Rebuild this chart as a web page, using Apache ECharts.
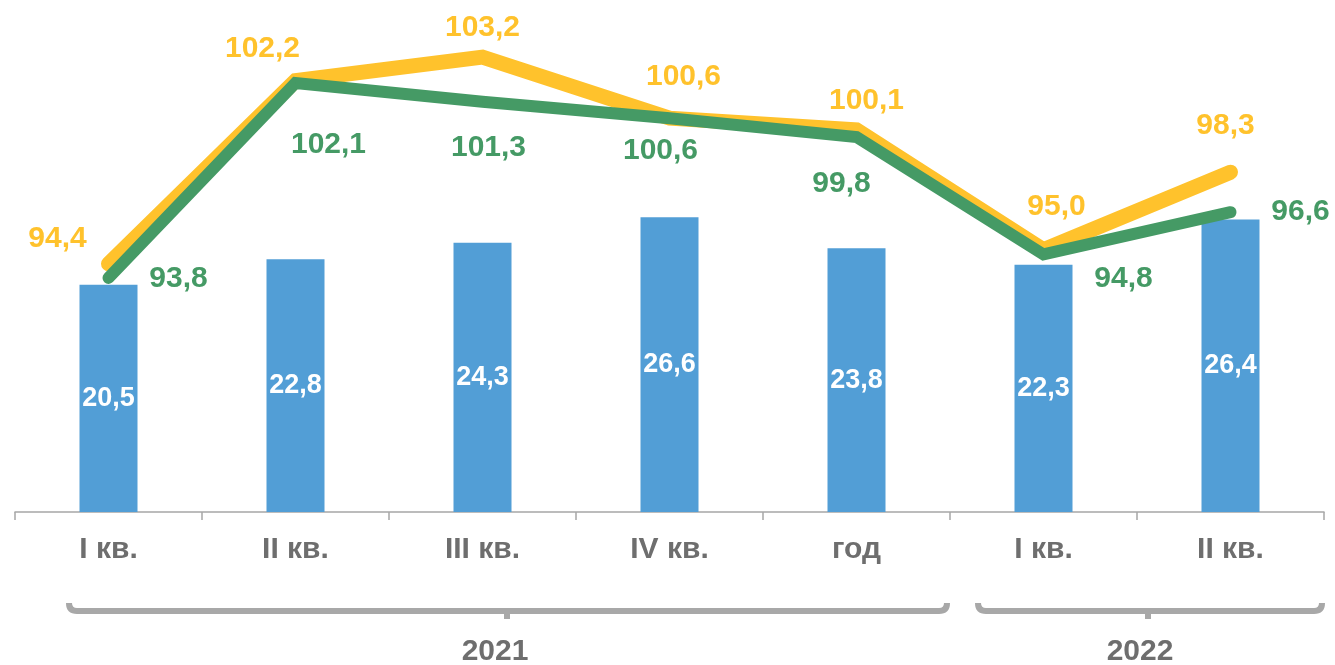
<!DOCTYPE html>
<html>
<head>
<meta charset="utf-8">
<script src="https://cdn.jsdelivr.net/npm/echarts@6/dist/echarts.min.js"></script>
<style>
html,body{margin:0;padding:0;background:#fff;}
#chart{width:1335px;height:665px;}
</style>
</head>
<body>
<div id="chart"></div>
<script>
var categories = ['I кв.', 'II кв.', 'III кв.', 'IV кв.', 'год', 'I кв.', 'II кв.'];
var barValues = [20.5, 22.8, 24.3, 26.6, 23.8, 22.3, 26.4];
var yellowValues = [94.4, 102.2, 103.2, 100.6, 100.1, 95.0, 98.3];
var greenValues = [93.8, 102.1, 101.3, 100.6, 99.8, 94.8, 96.6];
var yearLabels = ['2021', '2022'];

var FONT = '"Liberation Sans", Arial, sans-serif';
var YELLOW = '#FFC22C';
var GREEN = '#459A65';
var BLUE = '#529ED6';
var GRAY_TEXT = '#6E6E6E';
var BRACE = '#A8A8A8';

var yellowOffsets = [[-51,-25],[-33,-32],[0,-29],[14,-41],[10,-29],[13,-43],[-5,-46]];
var greenOffsets = [[70,1],[33,62],[6,46],[-9,33],[-15,47],[80,24],[70,0]];

function fmt(v){ return v.toFixed(1).replace('.', ','); }

function lineData(vals, offs){
  return vals.map(function(v,i){
    return {value:v, label:{offset:offs[i]}};
  });
}

function brace(x1, xc, x2, yTop, yBase, yTip, r){
  var st = {stroke:BRACE, lineWidth:6, fill:null};
  return [
    {type:'bezierCurve', shape:{x1:x1, y1:yTop, x2:x1+r, y2:yBase, cpx1:x1, cpy1:yBase}, style:st},
    {type:'line', shape:{x1:x1+r, y1:yBase, x2:x2-r, y2:yBase}, style:st},
    {type:'bezierCurve', shape:{x1:x2-r, y1:yBase, x2:x2, y2:yTop, cpx1:x2, cpy1:yBase}, style:st},
    {type:'line', shape:{x1:xc, y1:yBase, x2:xc, y2:yTip}, style:st}
  ];
}

var chart = echarts.init(document.getElementById('chart'), null, {renderer:'canvas'});

var graphics = [].concat(
  brace(69,507,947,603,611,619,8),
  brace(978,1148,1322,603,611,619,8),
  [
    {type:'text', x:495, y:652, style:{text:yearLabels[0], fill:GRAY_TEXT, font:'bold 30px '+FONT, textAlign:'center', textVerticalAlign:'middle'}},
    {type:'text', x:1140, y:652, style:{text:yearLabels[1], fill:GRAY_TEXT, font:'bold 30px '+FONT, textAlign:'center', textVerticalAlign:'middle'}}
  ]
);

var option = {
  animation:false,
  backgroundColor:'#fff',
  grid:{left:15, right:11, top:0, bottom:153, containLabel:false},
  xAxis:{
    type:'category',
    data:categories,
    boundaryGap:true,
    axisLine:{show:true, lineStyle:{color:'#A6A6A6', width:1.5}},
    axisTick:{show:true, length:8, interval:0, lineStyle:{color:'#A6A6A6', width:1.5}},
    axisLabel:{interval:0, margin:23, color:GRAY_TEXT, fontSize:30, fontWeight:'bold', fontFamily:FONT}
  },
  yAxis:[
    {type:'value', min:0, max:46.2, show:false, splitLine:{show:false}},
    {type:'value', min:83.84, max:105.63, show:false, splitLine:{show:false}}
  ],
  series:[
    {
      type:'bar', yAxisIndex:0, data:barValues, barWidth:58,
      itemStyle:{color:BLUE},
      label:{show:true, position:'inside', color:'#fff', fontSize:27, fontWeight:'bold', fontFamily:FONT,
        formatter:function(p){return fmt(p.value);}}
    },
    {
      type:'line', yAxisIndex:1, data:lineData(yellowValues, yellowOffsets),
      symbol:'circle', symbolSize:1, showSymbol:true,
      itemStyle:{color:YELLOW},
      lineStyle:{color:YELLOW, width:15, cap:'round', join:'miter'},
      label:{show:true, position:'inside', align:'center', verticalAlign:'middle', color:YELLOW, fontSize:30, fontWeight:'bold', fontFamily:FONT,
        formatter:function(p){return fmt(p.value);}},
      z:3
    },
    {
      type:'line', yAxisIndex:1, data:lineData(greenValues, greenOffsets),
      symbol:'circle', symbolSize:1, showSymbol:true,
      itemStyle:{color:GREEN},
      lineStyle:{color:GREEN, width:12, cap:'round', join:'miter'},
      label:{show:true, position:'inside', align:'center', verticalAlign:'middle', color:GREEN, fontSize:30, fontWeight:'bold', fontFamily:FONT,
        formatter:function(p){return fmt(p.value);}},
      z:4
    }
  ],
  graphic:graphics
};
chart.setOption(option);
</script>
</body>
</html>
